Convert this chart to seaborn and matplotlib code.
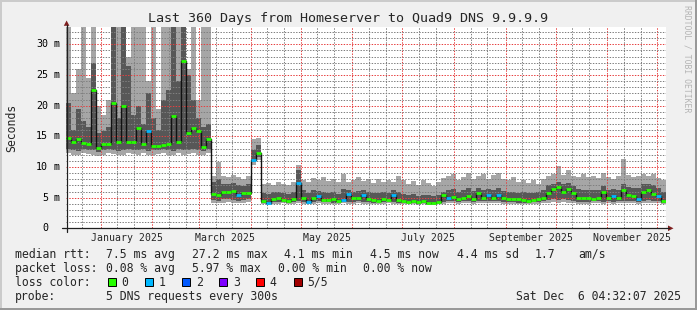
import numpy as np
import pandas as pd
import matplotlib
matplotlib.use('Agg')
import matplotlib.pyplot as plt
import matplotlib.dates as mdates
from matplotlib.transforms import blended_transform_factory
from matplotlib.patches import Polygon, Rectangle
from matplotlib.lines import Line2D
import seaborn as sns

# ---------------- data (ms), one value per 3-day bin, 120 bins = 360 days ----------------
START = "2024-12-11 04:32:07"
BIN_DAYS = 3

MED = [14.7, 14.0, 14.6, 13.9, 13.7, 22.5, 13.1, 13.8, 13.7, 20.5,
       14.0, 20.0, 14.1, 14.0, 16.4, 13.7, 15.8, 13.4, 13.5, 13.6,
       13.7, 18.3, 14.1, 27.2, 15.5, 16.3, 15.8, 13.2, 14.5,
       5.6, 5.5, 5.9, 5.9, 6.1, 5.5, 5.7, 5.8, 11.2, 12.3,
       4.4, 4.2, 4.8, 4.9, 4.6, 4.5, 4.8, 7.4, 4.9, 4.3,
       5.0, 5.3, 4.6, 4.6, 4.7, 4.5, 4.6, 5.6, 4.9, 4.9,
       5.4, 4.7, 4.6, 4.5, 4.7, 4.6, 5.4, 4.6, 4.4, 4.3,
       4.5, 4.3, 4.4, 4.2, 4.1, 4.3, 5.5, 4.9, 5.1, 4.8,
       5.0, 5.3, 4.8, 5.8, 5.0, 5.4, 5.0, 5.5, 4.9, 4.8,
       4.7, 4.8, 4.6, 4.5, 4.6, 4.8, 4.9, 5.7, 6.4, 6.8,
       6.0, 6.4, 5.7, 5.0, 4.9, 4.9, 4.8, 4.9, 5.9, 4.9,
       5.2, 4.9, 6.3, 5.5, 5.2, 4.8, 6.0, 6.2, 5.6, 5.2,
       4.5]

# outer smoke (min .. max of the 5 pings)
HI1 = [33.5, 22.0, 26.0, 33.5, 24.5, 33.5, 20.0, 18.5, 21.0, 33.5,
       33.5, 33.5, 28.0, 33.5, 33.5, 33.5, 24.0, 33.5, 19.5, 33.5,
       33.5, 33.5, 33.5, 33.5, 26.0, 33.5, 21.0, 33.5, 33.5,
       8.5, 10.8, 8.6, 8.3, 8.7, 8.4, 8.1, 8.5, 14.5, 14.8,
       7.2, 7.4, 7.0, 7.6, 7.3, 7.1, 7.5, 10.3, 7.8, 7.6,
       8.2, 7.9, 8.4, 7.7, 8.0, 7.5, 8.9, 7.6, 7.9, 8.3,
       7.7, 8.0, 7.4, 8.1, 7.6, 7.9, 7.5, 8.6, 7.9, 7.3,
       7.7, 7.1, 7.8, 7.4, 6.9, 7.6, 8.2, 8.6, 8.8, 7.9,
       8.3, 9.0, 8.1, 8.5, 8.9, 8.0, 8.7, 9.0, 8.0, 7.8,
       8.3, 7.6, 7.9, 7.4, 7.8, 7.3, 8.0, 8.6, 8.8, 10.2,
       8.7, 9.5, 8.6, 8.4, 8.8, 8.3, 8.6, 8.2, 9.0, 8.4,
       8.0, 8.5, 11.3, 8.7, 8.3, 8.6, 8.9, 8.5, 8.8, 8.2,
       7.9]
LO1 = [12.2, 12.0, 11.9, 12.3, 12.1, 12.0, 11.8, 12.0, 12.2, 12.1,
       11.9, 12.0, 12.3, 12.1, 12.0, 12.2, 11.9, 12.0, 12.1, 12.3,
       12.0, 11.9, 12.2, 12.0, 12.1, 12.3, 12.0, 11.9, 12.2,
       4.2, 4.1, 4.2, 4.3, 4.2, 4.1, 4.2, 4.3, 10.4, 11.2,
       4.0, 3.9, 4.0, 4.0, 4.1, 4.0, 4.0, 4.1, 4.0, 3.9,
       4.0, 4.1, 4.0, 4.0, 3.9, 4.0, 4.1, 4.0, 4.0, 4.1,
       4.0, 4.0, 3.9, 4.0, 4.0, 4.1, 4.0, 4.0, 3.9, 3.9,
       3.9, 3.8, 3.9, 3.8, 3.8, 3.9, 4.0, 4.1, 4.1, 4.0,
       4.1, 4.2, 4.0, 4.1, 4.1, 4.2, 4.1, 4.1, 4.0, 4.0,
       4.0, 4.0, 3.9, 3.9, 4.0, 4.0, 4.1, 4.2, 4.3, 4.2,
       4.3, 4.2, 4.1, 4.0, 4.0, 4.0, 4.1, 4.1, 4.0, 4.1,
       4.0, 4.1, 4.1, 4.2, 4.1, 4.0, 4.2, 4.2, 4.1, 4.1,
       4.0]

# inner smoke (2nd .. 4th ping)
HI2 = [20.5, 16.0, 19.5, 17.5, 16.5, 27.0, 15.5, 15.8, 16.5, 33.5,
       18.0, 33.5, 26.5, 18.5, 20.0, 17.0, 22.0, 18.0, 16.0, 21.0,
       22.5, 33.5, 24.0, 33.5, 25.0, 21.0, 18.0, 16.5, 17.0,
       7.6, 8.0, 7.3, 7.2, 7.4, 7.0, 6.9, 7.2, 12.8, 13.6,
       5.8, 5.6, 5.9, 6.0, 5.7, 5.6, 5.9, 9.5, 6.2, 5.8,
       6.3, 6.1, 6.0, 5.7, 5.9, 5.6, 6.4, 6.2, 6.0, 6.1,
       6.3, 5.9, 5.7, 5.8, 5.9, 5.7, 6.2, 5.9, 5.6, 5.4,
       5.6, 5.3, 5.5, 5.4, 5.2, 5.4, 6.0, 6.2, 6.4, 6.0,
       6.2, 6.5, 6.1, 6.6, 6.2, 6.4, 6.2, 6.5, 6.1, 6.0,
       6.0, 5.8, 5.9, 5.7, 5.8, 5.9, 6.2, 7.0, 7.3, 7.6,
       7.2, 7.4, 6.9, 6.4, 6.3, 6.2, 6.2, 6.3, 6.9, 6.3,
       6.4, 6.2, 7.2, 6.7, 6.5, 6.5, 7.2, 7.3, 7.0, 6.5,
       6.0]
LO2 = [12.9, 12.7, 12.6, 13.0, 12.8, 12.7, 12.5, 12.7, 12.9, 12.8,
       12.6, 12.7, 13.0, 12.8, 12.7, 12.9, 12.6, 12.7, 12.8, 13.0,
       12.7, 12.6, 12.9, 12.7, 12.8, 13.0, 12.7, 12.6, 12.9,
       4.6, 4.5, 4.7, 4.7, 4.6, 4.5, 4.6, 4.7, 10.8, 11.7,
       4.2, 4.1, 4.3, 4.3, 4.3, 4.2, 4.3, 4.4, 4.3, 4.1,
       4.3, 4.4, 4.3, 4.3, 4.2, 4.3, 4.4, 4.3, 4.3, 4.4,
       4.3, 4.3, 4.2, 4.3, 4.3, 4.4, 4.3, 4.2, 4.1, 4.1,
       4.1, 4.0, 4.1, 4.0, 4.0, 4.1, 4.3, 4.4, 4.4, 4.3,
       4.4, 4.5, 4.3, 4.4, 4.4, 4.5, 4.4, 4.4, 4.3, 4.3,
       4.3, 4.2, 4.2, 4.2, 4.3, 4.3, 4.4, 4.6, 4.8, 4.6,
       4.7, 4.6, 4.4, 4.3, 4.3, 4.3, 4.4, 4.4, 4.3, 4.4,
       4.3, 4.4, 4.4, 4.5, 4.4, 4.3, 4.5, 4.6, 4.4, 4.4,
       4.2]

# lost pings (of 5) per bin
LOSS = [0, 0, 0, 0, 0, 0, 0, 0, 0, 0,
        0, 0, 0, 0, 0, 0, 1, 0, 0, 0,
        0, 0, 0, 0, 0, 0, 0, 0, 0, 0,
        0, 0, 0, 0, 1, 0, 0, 1, 0, 0,
        1, 0, 0, 0, 0, 0, 1, 0, 1, 0,
        1, 0, 0, 0, 0, 1, 1, 0, 0, 1,
        0, 0, 0, 0, 0, 1, 0, 0, 0, 0,
        0, 0, 0, 0, 0, 0, 1, 0, 0, 0,
        0, 0, 0, 0, 1, 0, 1, 0, 0, 0,
        0, 0, 0, 0, 0, 0, 0, 0, 0, 0,
        0, 0, 0, 0, 0, 0, 0, 0, 0, 1,
        0, 0, 0, 0, 1, 0, 0, 0, 1, 0]

LOSS_COLORS = ["#26ff00", "#00b8ff", "#0059ff", "#7e00ff", "#ff0000", "#a10000"]
LOSS_LABELS = ["0", "1", "2", "3", "4", "5/5"]
YTICKS = [0, 5, 10, 15, 20, 25, 30]
MONTH_LABELS = ["January 2025", "March 2025", "May 2025", "July 2025",
                "September 2025", "November 2025"]
TITLE = "Last 360 Days from Homeserver to Quad9 DNS 9.9.9.9"
ROW1 = [("median rtt:", 16), ("7.5 ms avg", 107), ("27.2 ms max", 193), ("4.1 ms min", 285),
        ("4.5 ms now", 371), ("4.4 ms sd", 458), ("1.7", 536), ("am/s", 579)]
ROW2 = [("packet loss:", 16), ("0.08 % avg", 107), ("5.97 % max", 193),
        ("0.00 % min", 279), ("0.00 % now", 364)]
PROBE = "5 DNS requests every 300s"
STAMP = "Sat Dec  6 04:32:07 2025"

# ---------------- figure ----------------
sns.set_theme(style="white")
plt.rcParams['font.family'] = ['DejaVu Sans Mono', 'DejaVu Sans']

W, H = 697, 310
fig = plt.figure(figsize=(W / 100, H / 100), dpi=100)
fig.patch.set_facecolor('#F0F0F0')


def fx(x):
    return x / W


def fy(y):
    return 1 - y / H


ax = fig.add_axes([fx(66), fy(228.3), 600 / W, 201 / H])
ax.set_facecolor('white')

n = len(MED)
x0 = mdates.date2num(pd.Timestamp(START).to_pydatetime())
edges = x0 + np.arange(n + 1) * BIN_DAYS
ext = lambda a: np.append(np.asarray(a, float), a[-1])

LIGHT, DARK = '#a6a6a6', '#575757'
ax.fill_between(edges, ext(LO1), ext(HI1), step='post', color=LIGHT, lw=0, zorder=1)
ax.fill_between(edges, ext(LO2), ext(HI2), step='post', color=DARK, lw=0, zorder=1.1)

df = pd.DataFrame({'t': edges, 'med': ext(MED)})
sns.lineplot(data=df, x='t', y='med', ax=ax, color='#111111', lw=1.0,
             drawstyle='steps-post', estimator=None, zorder=3)
ax.hlines(MED, edges[:-1], edges[1:], colors=[LOSS_COLORS[l] for l in LOSS],
          lw=2.0, zorder=4)

ax.set_xlim(edges[0], edges[-1])
ax.set_ylim(0, 201 / 6.1333)
ax.set_xlabel('')
ax.set_ylabel('')

# grid: month starts (major), 11th/21st (minor)
end = pd.Timestamp(START) + pd.Timedelta(days=n * BIN_DAYS)
months = pd.date_range("2025-01-01", end, freq="MS")
minors = [d for m in pd.date_range("2024-12-01", end, freq="MS")
          for d in (m + pd.Timedelta(days=10), m + pd.Timedelta(days=20))
          if pd.Timestamp(START) < d < end]
ax.set_xticks(mdates.date2num([m.to_pydatetime() for m in months]))
ax.set_xticks(mdates.date2num([m.to_pydatetime() for m in minors]), minor=True)
ax.set_yticks(YTICKS)
ax.set_yticks(np.arange(0, 33, 1), minor=True)
ax.set_axisbelow(False)
ax.grid(which='major', color=(0.9, 0.25, 0.25, 0.42), lw=0.72, ls=(0, (1.4, 1.4)))
ax.grid(which='minor', color=(0.5, 0.5, 0.5, 0.30), lw=0.72, ls=(0, (1.4, 1.4)))
ax.tick_params(which='both', labelbottom=False, labelleft=False, direction='inout',
               color='#1f1f1f', width=0.7)
ax.tick_params(which='major', length=3.0)
ax.tick_params(which='minor', length=1.5)
for s in ax.spines.values():
    s.set_visible(False)

# axes lines + arrows
axis_c, arrow_c = '#1f1f1f', '#7f1f1f'
fig.add_artist(Line2D([fx(62), fx(669)], [fy(228.3)] * 2, color=axis_c, lw=0.9))
fig.add_artist(Line2D([fx(66.5)] * 2, [fy(232), fy(25)], color=axis_c, lw=0.9))
fig.add_artist(Polygon([[fx(668), fy(225.5)], [fx(673.5), fy(228.3)], [fx(668), fy(231.1)]],
                       closed=True, transform=fig.transFigure, color=arrow_c, lw=0))
fig.add_artist(Polygon([[fx(63.8), fy(25.8)], [fx(66.6), fy(20.5)], [fx(69.4), fy(25.8)]],
                       closed=True, transform=fig.transFigure, color=arrow_c, lw=0))

# y tick labels
ytr = blended_transform_factory(fig.transFigure, ax.transData)
for v in YTICKS:
    ax.text(fx(48.2), v, str(v), transform=ytr, ha='right', va='center', fontsize=7.2,
            color='black')
    if v:
        ax.text(fx(53.4), v, 'm', transform=ytr, ha='left', va='center', fontsize=7.2,
                color='black')

# month labels centred mid-month
xtr = blended_transform_factory(ax.transData, fig.transFigure)
for m, lab in zip(months[::2], MONTH_LABELS):
    nxt = m + pd.offsets.MonthBegin(1)
    mid = (mdates.date2num(m.to_pydatetime()) + mdates.date2num(nxt.to_pydatetime())) / 2
    ax.text(mid, fy(238.3), lab, transform=xtr, ha='center', va='center', fontsize=7.1)

# texts
fig.text(fx(347.7), fy(18.8), TITLE, ha='center', va='center', fontsize=9.6)
fig.text(fx(11.5), fy(127.5), 'Seconds', rotation=90, ha='center', va='center', fontsize=8.3)
fig.text(fx(687.5), fy(5), 'RRDTOOL / TOBI OETIKER', rotation=-90, ha='center', va='top',
         fontsize=5.9, color='#b4b4b4')

for txt, x in ROW1:
    fig.text(fx(x - 1), fy(254.3), txt, ha='left', va='center', fontsize=8.3)
for txt, x in ROW2:
    fig.text(fx(x - 1), fy(268.3), txt, ha='left', va='center', fontsize=8.3)
fig.text(fx(15), fy(282.3), 'loss color:', ha='left', va='center', fontsize=8.3)
for i, (c, lab) in enumerate(zip(LOSS_COLORS, LOSS_LABELS)):
    bx = 108 + 37.1 * i
    fig.add_artist(Rectangle((fx(bx), fy(286.3)), 8 / W, 8 / H, transform=fig.transFigure,
                             facecolor=c, edgecolor='black', lw=0.7))
    fig.text(fx(bx + 13.5), fy(282.3), lab, ha='left', va='center', fontsize=8.3)
fig.text(fx(15), fy(296.2), 'probe:', ha='left', va='center', fontsize=8.3)
fig.text(fx(106), fy(296.2), PROBE, ha='left', va='center', fontsize=8.3)
fig.text(fx(681), fy(296.2), STAMP, ha='right', va='center', fontsize=8.3)

# 3D frame
fig.add_artist(Line2D([0, 1], [fy(0.7)] * 2, color='#cbcbcb', lw=1.44))
fig.add_artist(Line2D([fx(0.7)] * 2, [0, 1], color='#cbcbcb', lw=1.44))
fig.add_artist(Line2D([0, 1], [fy(309.0)] * 2, color='#999999', lw=1.44))
fig.add_artist(Line2D([fx(696.0)] * 2, [0, 1], color='#999999', lw=1.44))

fig.savefig('out.png', dpi=100, facecolor=fig.get_facecolor())
